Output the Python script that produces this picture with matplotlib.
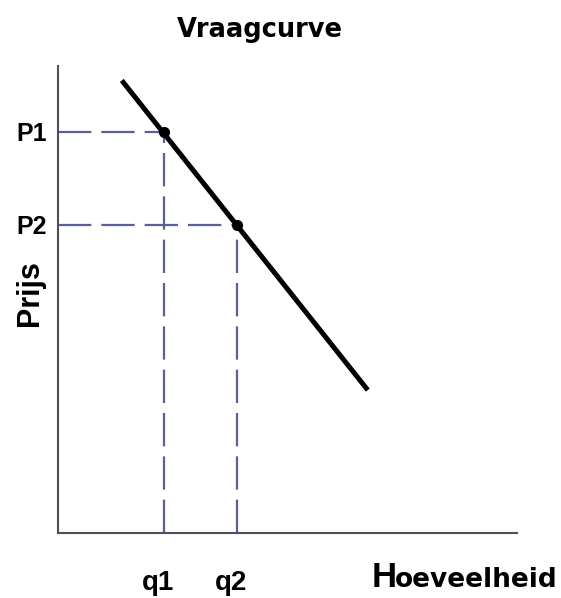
import matplotlib.pyplot as plt

# vraagcurve (prijs tegen hoeveelheid)
vraag_q = [1.39, 6.75]
vraag_p = [9.69, 3.06]
punten_q = [2.31, 3.90]
punten_p = [8.59, 6.60]
q_labels = ["q1", "q2"]
p_labels = ["P1", "P2"]

plt.rcParams['font.family'] = ['Liberation Sans', 'DejaVu Sans']

fig = plt.figure(figsize=(5.61, 5.98), dpi=100)
ax = fig.add_axes([0.1034, 0.1087, 0.818, 0.781])
ax.set_xlim(0, 10)
ax.set_ylim(0, 10)

stippel = '#5b6096'
for q, p in zip(punten_q, punten_p):
	ax.plot([0, q], [p, p], color=stippel, lw=1.6, dashes=(15, 4.5), zorder=1)
	ax.plot([q, q], [0, p], color=stippel, lw=1.6, dashes=(15, 4.5), zorder=1)

ax.plot(vraag_q, vraag_p, '-', color='black', lw=3.6, solid_capstyle='butt', zorder=2)
ax.plot(punten_q, punten_p, 'o', color='black', ms=7, zorder=3)

for s in ['top', 'right']:
	ax.spines[s].set_visible(False)
for s in ['left', 'bottom']:
	ax.spines[s].set_color('#505050')
	ax.spines[s].set_linewidth(1.5)

ax.set_xticks([])
ax.set_yticks(punten_p)
ax.set_yticklabels(p_labels, fontsize=18, fontweight='bold')
ax.tick_params(axis='y', length=0, pad=8)

for q, lab in zip(punten_q, q_labels):
	ax.annotate(lab, xy=(q, 0), xytext=(-6, -50), textcoords='offset pixels',
		ha='center', va='center', fontsize=20, fontweight='bold')

fig.text(30 / 561, 1 - 293 / 598, "Prijs", fontsize=22, fontweight='bold',
	rotation=90, ha='center', va='center')

fig.text(372 / 561, 1 - 587 / 598, "H", fontsize=25, fontweight='bold', ha='left')
fig.text(395 / 561, 1 - 587 / 598, "oeveelheid", fontsize=19, family='DejaVu Sans',
	fontweight='bold', ha='left')
fig.text(260 / 561, 1 - 37 / 598, "Vraagcurve", fontsize=18.5, family='DejaVu Sans',
	fontweight='bold', ha='center', va='baseline')

fig.savefig('out.png', dpi=100)
